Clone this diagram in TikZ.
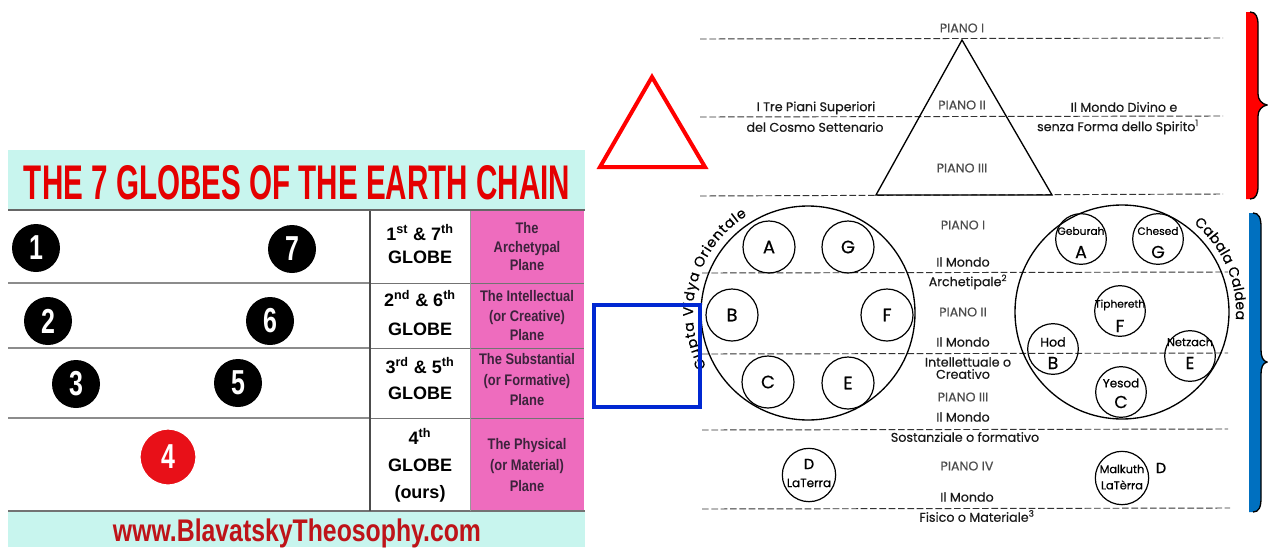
\documentclass[tikz,border=0pt]{standalone}
\usepackage{fontspec}
\usepackage{graphicx}
\setmainfont{Liberation Sans}
\newfontfamily\condf[FakeStretch=0.72]{Liberation Sans}
\newfontfamily\narrowf[FakeStretch=0.84]{Liberation Sans}
\newfontfamily\scanf[FakeBold=0.5]{Poppins}
\usetikzlibrary{decorations.text}
\definecolor{bandcyan}{RGB}{200,245,238}
\definecolor{titlered}{RGB}{228,0,0}
\definecolor{urlred}{RGB}{190,20,25}
\definecolor{pinkcol}{RGB}{238,108,190}
\definecolor{pinktext}{RGB}{60,35,60}
\definecolor{ballred}{RGB}{232,16,24}
\definecolor{bracered}{RGB}{255,0,0}
\definecolor{braceblue}{RGB}{0,112,192}
\definecolor{boxblue}{RGB}{0,40,210}
\begin{document}
\begin{tikzpicture}[x=0.75pt,y=-0.75pt,
  ball/.style={circle,fill=black,minimum size=36pt,inner sep=0pt,text=white,font=\condf\bfseries\fontsize{26}{26}\selectfont},
  gcol/.style={anchor=base,inner sep=0pt,font=\bfseries\fontsize{13.5}{16}\selectfont},
  pcol/.style={anchor=base,inner sep=0pt,font=\narrowf\bfseries\fontsize{11.5}{14}\selectfont,text=pinktext},
  dl/.style={dash pattern=on 5pt off 2pt,line width=0.7pt,black!80},
  lab/.style={inner sep=0pt,font=\scanf\fontsize{9.5}{11}\selectfont,text=black!90},
  piano/.style={lab,text=black!70},
  bigc/.style={circle,draw,line width=1pt,minimum size=160.5pt,inner sep=0pt},
  smc/.style={circle,draw,line width=0.9pt,minimum size=39pt,inner sep=0pt,font=\scanf\fontsize{13.5}{14}\selectfont},
  tsc/.style={circle,draw,line width=0.9pt,minimum size=38pt,inner sep=0pt},
  tname/.style={inner sep=0pt,font=\scanf\fontsize{8}{9}\selectfont},
  tlet/.style={inner sep=0pt,font=\scanf\fontsize{13}{13}\selectfont}]
\useasboundingbox (0,0) rectangle (1268,547);

% ---------------- left panel ----------------
\fill[bandcyan] (8,150) rectangle (585,209);
\fill[bandcyan] (8,512) rectangle (585,547);
\fill[pinkcol] (470,211) rectangle (584,511);
\node[anchor=base,inner sep=0pt,text=titlered] (title) at (297,199)
  {\resizebox{409.5pt}{25.5pt}{\condf\bfseries THE 7 GLOBES OF THE EARTH CHAIN}};
\node[anchor=base,inner sep=0pt,text=urlred] (url) at (297,541)
  {\resizebox{276pt}{17pt}{\condf\bfseries www.BlavatskyTheosophy.com}};

\draw[line width=2.2pt,black!60] (8,210) -- (585,210);
\draw[line width=2.2pt,black!55] (8,511) -- (585,511);
\foreach \yy in {283,348,418}{
  \draw[line width=1.8pt,black!45] (8,\yy) -- (370,\yy);
  \draw[line width=0.6pt,black!55] (370,\yy) -- (584,\yy);
}
\draw[line width=0.8pt,black!70] (370,211) -- (370,511);
\draw[line width=0.5pt,black!40] (470,211) -- (470,511);

\node[ball] (b1) at (36,248) {1};
\node[ball] (b7) at (292,249) {7};
\node[ball] (b2) at (48,321) {2};
\node[ball] (b6) at (270,321) {6};
\node[ball] (b3) at (76,384) {3};
\node[ball] (b5) at (238,383) {5};
\node[ball,fill=ballred,draw=white,line width=1pt,minimum size=42pt] (b4) at (168,457) {4};

\node[gcol] (g1a) at (420,240) {1\textsuperscript{st} \& 7\textsuperscript{th}};
\node[gcol] (g1b) at (420,263) {GLOBE};
\node[gcol] (g2a) at (420,306) {2\textsuperscript{nd} \& 6\textsuperscript{th}};
\node[gcol] (g2b) at (420,335) {GLOBE};
\node[gcol] (g3a) at (420,373) {3\textsuperscript{rd} \& 5\textsuperscript{th}};
\node[gcol] (g3b) at (420,399) {GLOBE};
\node[gcol] (g4a) at (420,444) {4\textsuperscript{th}};
\node[gcol] (g4b) at (420,471) {GLOBE};
\node[gcol] (g4c) at (420,498) {(ours)};

\node[pcol] (p1a) at (527,233) {The};
\node[pcol] (p1b) at (527,252) {Archetypal};
\node[pcol] (p1c) at (527,270) {Plane};
\node[pcol] (p2a) at (527,301) {The Intellectual};
\node[pcol] (p2b) at (527,321) {(or Creative)};
\node[pcol] (p2c) at (527,340) {Plane};
\node[pcol] (p3a) at (527,364) {The Substantial};
\node[pcol] (p3b) at (527,385) {(or Formative)};
\node[pcol] (p3c) at (527,405) {Plane};
\node[pcol] (p4a) at (527,449) {The Physical};
\node[pcol] (p4b) at (527,470) {(or Material)};
\node[pcol] (p4c) at (527,491) {Plane};

% ---------------- right diagram ----------------
\draw[dl] (700,39) -- (1223,38);
\draw[dl] (700,117) -- (1223,116);
\draw[dl] (700,196) -- (1223,194);
\draw[dl] (702,273) -- (1228,272);
\draw[dl] (702,354) -- (1228,353);
\draw[dl] (702,430) -- (1228,429);
\draw[dl] (702,509) -- (1230,508);

\draw[line width=1pt,line join=miter] (962,40) -- (876,195) -- (1052,195) -- cycle;

\node[piano] (t1) at (962,28) {PIANO I};
\node[piano] (t2) at (962,105) {PIANO II};
\node[piano] (t3) at (962,168) {PIANO III};
\node[lab] (sup1) at (816,108) {I Tre Piani Superiori};
\node[lab] (sup2) at (815,127) {del Cosmo Settenario};
\node[lab] (div1) at (1124,107) {Il Mondo Divino e};
\node[lab] (div2) at (1118,127) {senza Forma dello Spirito\textsuperscript{1}};

\node[bigc] (lc) at (808,313) {};
\node[bigc] (rc) at (1122,312) {};

\node[smc] (cA) at (769,247) {A};
\node[smc] (cG) at (848,247) {G};
\node[smc] (cB) at (732,315) {B};
\node[smc] (cF) at (887,315) {F};
\node[smc] (cC) at (768,382) {C};
\node[smc] (cE) at (848,383) {E};

\node[tsc] (geb) at (1081,239) {};
\node[tname] at (1081,231) {Geburah};
\node[tlet] at (1081,252) {A};
\node[tsc] (che) at (1158,239) {};
\node[tname] at (1158,231) {Chesed};
\node[tlet] at (1158,252) {G};
\node[tsc] (tip) at (1120,311) {};
\node[tname] at (1120,305) {Tiphereth};
\node[tlet] at (1120,326) {F};
\node[tsc] (hod) at (1053,349) {};
\node[tname,font=\scanf\fontsize{9.5}{10}\selectfont] at (1053,342) {Hod};
\node[tlet] at (1053,363) {B};
\node[tsc] (net) at (1190,356) {};
\node[tname,font=\scanf\fontsize{8.5}{9}\selectfont] at (1190,342) {Netzach};
\node[tlet] at (1190,363) {E};
\node[tsc] (yes) at (1121,392) {};
\node[tname,font=\scanf\fontsize{9}{9}\selectfont] at (1121,383) {Yesod};
\node[tlet] at (1121,402) {C};

\node[tsc,minimum size=40pt] (dterra) at (809,475) {};
\node[tlet,font=\scanf\fontsize{11}{11}\selectfont] at (809,464) {D};
\node[tname,font=\scanf\fontsize{9}{9}\selectfont] at (809,483) {LaTerra};
\node[tsc,minimum size=40pt] (malk) at (1122,478) {};
\node[tname,font=\scanf\fontsize{8.5}{9}\selectfont] at (1122,469) {Malkuth};
\node[tname,font=\scanf\fontsize{8.5}{9}\selectfont] at (1122,485) {LaTèrra};
\node[tlet,font=\scanf\fontsize{11}{11}\selectfont] (dlab) at (1161,468) {D};

\node[piano] (m1) at (963,225) {PIANO I};
\node[lab] (m2) at (963,262) {Il Mondo};
\node[lab] (m3) at (968,282) {Archetipale\textsuperscript{2}};
\node[piano] (m4) at (963,312) {PIANO II};
\node[lab] (m5) at (963,342) {Il Mondo};
\node[lab] (m6) at (968,362) {Intellettuale o};
\node[lab] (m7) at (963,374) {Creativo};
\node[piano] (m8) at (963,397) {PIANO III};
\node[lab] (m9) at (963,417) {Il Mondo};
\node[lab] (m10) at (965,437) {Sostanziale o formativo};
\node[piano] (m11) at (967,466) {PIANO IV};
\node[lab] (m12) at (967,497) {Il Mondo};
\node[lab] (m13) at (977,516) {Fisico o Materiale\textsuperscript{3}};

\path[decorate,decoration={text along path,text align=fit to path,
   text={|\scanf\fontsize{10.5}{11}\selectfont|Gupta Vidya Orientale}}]
   (808,313) ++(-208:115) arc[start angle=-208,end angle=-122,radius=115];
\path[decorate,decoration={text along path,text align=fit to path,
   text={|\scanf\fontsize{10.5}{11}\selectfont|Cabala Caldea}}]
   (1122,312) ++(-51:114) arc[start angle=-51,end angle=4,radius=114];

% ---------------- overlays ----------------
\draw[bracered,line width=3pt,line join=miter] (652,77) -- (600,167) -- (705,167) -- cycle;
\draw[boxblue,line width=2.4pt] (594,305) rectangle (700,407);

% ---------------- braces ----------------
\fill[bracered] (1246,12) -- (1250,12) .. controls (1256,12) and (1258,17) .. (1258,25)
  -- (1258,94) .. controls (1258,100) and (1262,104) .. (1267,105)
  .. controls (1262,106) and (1258,110) .. (1258,116)
  -- (1258,186) .. controls (1258,194) and (1256,199) .. (1250,199) -- (1246,199) -- cycle;
\draw[line width=1pt] (1250,12) .. controls (1256,12) and (1258,17) .. (1258,25)
  -- (1258,94) .. controls (1258,100) and (1262,104) .. (1267,105)
  .. controls (1262,106) and (1258,110) .. (1258,116)
  -- (1258,186) .. controls (1258,194) and (1256,199) .. (1250,199);
\fill[braceblue] (1249,213) -- (1253,213) .. controls (1259,213) and (1261,218) .. (1261,227)
  -- (1261,350) .. controls (1261,357) and (1263,361) .. (1267,362)
  .. controls (1263,363) and (1261,367) .. (1261,374)
  -- (1261,498) .. controls (1261,507) and (1259,512) .. (1253,512) -- (1249,512) -- cycle;
\draw[line width=1pt] (1253,213) .. controls (1259,213) and (1261,218) .. (1261,227)
  -- (1261,350) .. controls (1261,357) and (1263,361) .. (1267,362)
  .. controls (1263,363) and (1261,367) .. (1261,374)
  -- (1261,498) .. controls (1261,507) and (1259,512) .. (1253,512);
\end{tikzpicture}
\end{document}
